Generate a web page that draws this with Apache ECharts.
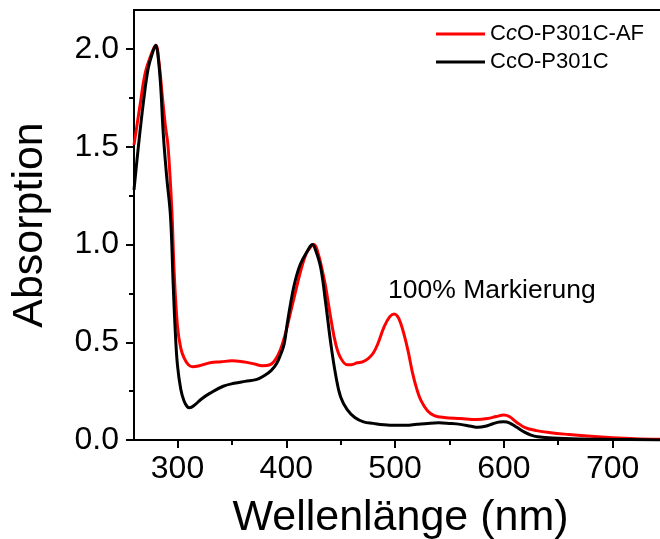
<!DOCTYPE html>
<html>
<head>
<meta charset="utf-8">
<script src="https://cdn.jsdelivr.net/npm/echarts@6/dist/echarts.min.js"></script>
<style>
  html, body { margin: 0; padding: 0; background: #fff; }
  #chart { width: 660px; height: 539px; }
</style>
</head>
<body>
<div id="chart"></div>
<script>
// UV-Vis absorption spectra: wavelength (nm) / absorption pairs
const seriesNames = ['CcO-P301C-AF', 'CcO-P301C'];
const seriesColors = ['#ff0000', '#000000'];

const spectrumAF = [
  [260,1.51],[263,1.62],[266,1.73],[270,1.87],[275,1.96],[280,2.02],[283,1.93],[286,1.76],
  [289,1.60],[291,1.52],[293,1.36],[295,1.15],[297,0.85],[300,0.58],[303,0.47],[306,0.42],
  [310,0.385],[314,0.375],[320,0.38],[330,0.395],[340,0.40],[350,0.405],[360,0.40],[370,0.39],
  [378,0.38],[385,0.385],[392,0.43],[398,0.52],[404,0.655],[409,0.77],[413,0.86],[418,0.95],
  [422,0.985],[425.5,1.0],[429,0.96],[433,0.87],[436,0.79],[441,0.62],[445.5,0.49],[450,0.42],
  [456,0.385],[460,0.385],[465,0.395],[470,0.40],[475,0.415],[480,0.445],[484,0.49],[490,0.58],
  [495,0.63],[499,0.645],[502,0.635],[505,0.60],[508,0.545],[512,0.455],[516,0.345],[520,0.26],
  [524,0.20],[530,0.148],[536,0.125],[545,0.115],[560,0.11],[575,0.105],[585,0.11],[593,0.12],
  [600,0.128],[605,0.12],[612,0.09],[619,0.065],[630,0.048],[643,0.037],[660,0.028],[680,0.019],
  [700,0.012],[720,0.007],[750,0.003]
];

const spectrumRef = [
  [260,1.28],[264,1.50],[268.7,1.73],[273,1.90],[277,1.98],[280,2.02],[282,1.97],[284.4,1.82],
  [287,1.56],[290,1.35],[293.6,1.14],[296,0.80],[298,0.55],[300,0.38],[303,0.26],[306,0.20],
  [309,0.17],[311,0.165],[316,0.18],[322,0.21],[330,0.24],[342,0.275],[352,0.29],[362,0.30],
  [373,0.31],[380,0.33],[386,0.355],[391,0.39],[395,0.44],[398,0.49],[401,0.60],[404,0.70],
  [408,0.81],[413,0.90],[419.7,0.97],[424,1.0],[427,0.97],[431.7,0.88],[436,0.71],[441,0.49],
  [445.5,0.33],[450,0.22],[456,0.155],[463,0.115],[471,0.093],[480,0.085],[490,0.078],[500,0.075],
  [510,0.075],[520,0.08],[530,0.085],[540,0.088],[550,0.085],[560,0.08],[570,0.07],[576,0.065],
  [583,0.07],[590,0.083],[596,0.092],[600,0.093],[605,0.088],[612,0.065],[619,0.04],[625,0.025],
  [631,0.017],[645,0.01],[671,0.005],[700,0.003],[750,0.0]
];

// axis tick positions
const xMajorTicks = [300, 400, 500, 600, 700];
const xMinorTicks = [350, 450, 550, 650];
const yMajorTicks = [0, 0.5, 1.0, 1.5, 2.0];
const yMinorTicks = [0.25, 0.75, 1.25, 1.75];

const annotationText = '100% Markierung';
const xTitle = 'Wellenlänge (nm)';
const yTitle = 'Absorption';

const FONT = '"Liberation Sans", Arial, sans-serif';
const X_MIN = 260, X_MAX = 750, Y_MIN = 0, Y_MAX = 2.2;

const chart = echarts.init(document.getElementById('chart'), null, { renderer: 'canvas' });

const option = {
  backgroundColor: '#ffffff',
  animation: false,
  textStyle: { fontFamily: FONT, color: '#000' },
  grid: {
    left: 134, top: 10, width: 533, height: 430,
    containLabel: false, outerBoundsMode: 'none',
    show: true, borderColor: '#000', borderWidth: 2, backgroundColor: 'transparent'
  },
  legend: {
    orient: 'vertical',
    left: 436, top: 23,
    padding: 0,
    itemGap: 6,
    itemWidth: 49, itemHeight: 3,
    icon: 'rect',
    data: seriesNames.map(function (n, i) { return { name: n, itemStyle: { color: seriesColors[i] } }; }),
    formatter: function (name) {
      if (name === seriesNames[0]) return '{n|C}{i|c}{n|O-P301C-AF}';
      return '{n|' + name + '}';
    },
    textStyle: {
      fontFamily: FONT, fontSize: 22, color: '#000', lineHeight: 22,
      rich: {
        n: { fontFamily: FONT, fontSize: 22, color: '#000' },
        i: { fontFamily: FONT, fontSize: 22, color: '#000', fontStyle: 'italic' }
      }
    }
  },
  xAxis: [
    {
      type: 'value', min: X_MIN, max: X_MAX, position: 'bottom',
      name: xTitle, nameLocation: 'middle', nameGap: 57,
      nameTextStyle: { fontFamily: FONT, fontSize: 43, color: '#000' },
      splitLine: { show: false },
      axisLine: { show: true, onZero: false, lineStyle: { color: '#000', width: 2 } },
      axisTick: { show: true, inside: false, length: 8, customValues: xMajorTicks, lineStyle: { color: '#000', width: 2 } },
      axisLabel: { show: true, customValues: xMajorTicks, margin: 13, fontFamily: FONT, fontSize: 32, color: '#000' }
    },
    {
      type: 'value', min: X_MIN, max: X_MAX, position: 'bottom',
      splitLine: { show: false },
      axisLine: { show: false },
      axisTick: { show: true, inside: false, length: 5, customValues: xMinorTicks, lineStyle: { color: '#000', width: 2 } },
      axisLabel: { show: false }
    }
  ],
  yAxis: [
    {
      type: 'value', min: Y_MIN, max: Y_MAX, position: 'left',
      name: yTitle, nameLocation: 'middle', nameGap: 82,
      nameTextStyle: { fontFamily: FONT, fontSize: 43, color: '#000' },
      splitLine: { show: false },
      axisLine: { show: true, onZero: false, lineStyle: { color: '#000', width: 2 } },
      axisTick: { show: true, inside: false, length: 8, customValues: yMajorTicks, lineStyle: { color: '#000', width: 2 } },
      axisLabel: {
        show: true, customValues: yMajorTicks, margin: 15, fontFamily: FONT, fontSize: 32, color: '#000',
        formatter: function (v) { return v.toFixed(1); }
      }
    },
    {
      type: 'value', min: Y_MIN, max: Y_MAX, position: 'left',
      splitLine: { show: false },
      axisLine: { show: false },
      axisTick: { show: true, inside: false, length: 5, customValues: yMinorTicks, lineStyle: { color: '#000', width: 2 } },
      axisLabel: { show: false }
    }
  ],
  graphic: [
    {
      type: 'text', left: 388, top: 277,
      style: { text: annotationText, font: '26.5px ' + FONT, fill: '#000' }
    }
  ],
  series: [
    {
      name: seriesNames[0], type: 'line', data: spectrumAF,
      xAxisIndex: 0, yAxisIndex: 0,
      showSymbol: false, smooth: 0.4,
      lineStyle: { color: seriesColors[0], width: 3 },
      itemStyle: { color: seriesColors[0] },
      clip: true, z: 2
    },
    {
      name: seriesNames[1], type: 'line', data: spectrumRef,
      xAxisIndex: 0, yAxisIndex: 0,
      showSymbol: false, smooth: 0.4,
      lineStyle: { color: seriesColors[1], width: 3 },
      itemStyle: { color: seriesColors[1] },
      clip: true, z: 3
    }
  ]
};

chart.setOption(option);
</script>
</body>
</html>
